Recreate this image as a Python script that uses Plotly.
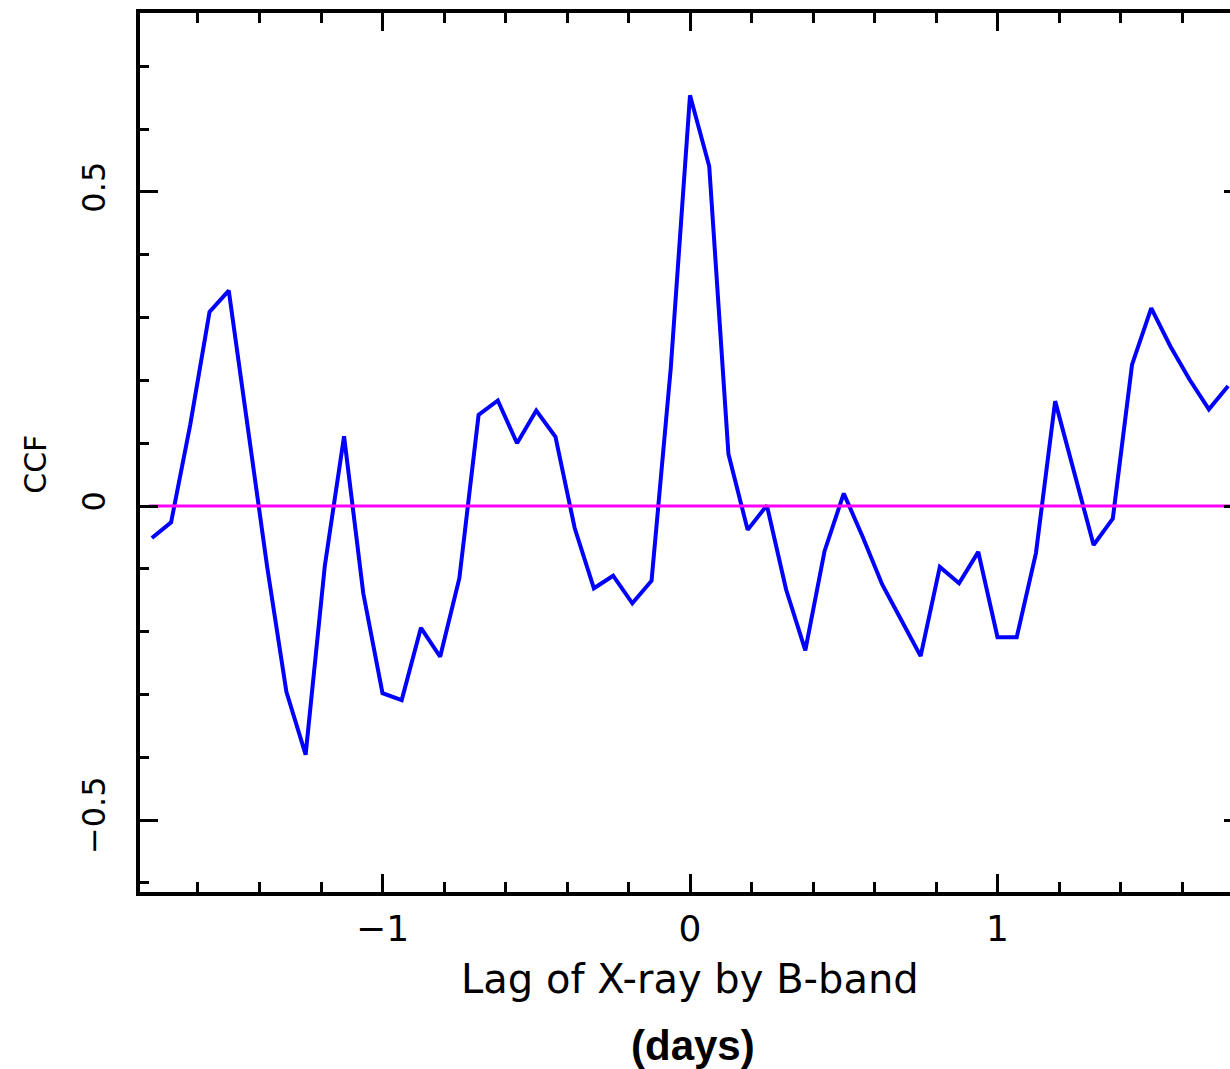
import plotly.graph_objects as go

lags = [-1.75, -1.6875, -1.625, -1.5625, -1.5, -1.4375, -1.375, -1.3125, -1.25, -1.1875,
        -1.125, -1.0625, -1.0, -0.9375, -0.875, -0.8125, -0.75, -0.6875, -0.625, -0.5625,
        -0.5, -0.4375, -0.375, -0.3125, -0.25, -0.1875, -0.125, -0.0625,
        0.0, 0.0625, 0.125, 0.1875, 0.25, 0.3125, 0.375, 0.4375, 0.5, 0.5625,
        0.625, 0.6875, 0.75, 0.8125, 0.875, 0.9375, 1.0, 1.0625, 1.125, 1.1875,
        1.25, 1.3125, 1.375, 1.4375, 1.5, 1.5625, 1.625, 1.6875, 1.75]

ccf = [-0.051, -0.026, 0.13, 0.309, 0.343, 0.125, -0.097, -0.296, -0.396, -0.095,
       0.111, -0.139, -0.298, -0.309, -0.194, -0.240, -0.115, 0.145, 0.168, 0.10,
       0.152, 0.11, -0.035, -0.131, -0.111, -0.155, -0.119, 0.22,
       0.654, 0.541, 0.083, -0.038, 0.001, -0.133, -0.23, -0.072, 0.02, -0.05,
       -0.125, -0.182, -0.239, -0.097, -0.123, -0.073, -0.209, -0.209, -0.075, 0.167,
       0.053, -0.062, -0.02, 0.225, 0.315, 0.254, 0.201, 0.154, 0.191]

zero_x = [-1.76, 1.8]
zero_y = [0.0, 0.0]

XR = [-1.7886, 1.7561]
YR = [-0.6146, 0.785]

fig = go.Figure()
fig.add_trace(go.Scatter(x=lags, y=ccf, mode="lines",
                         line=dict(color="#0000FF", width=4), showlegend=False))
fig.add_trace(go.Scatter(x=zero_x, y=zero_y, mode="lines", xaxis="x2", yaxis="y2",
                         line=dict(color="#FF00FF", width=3), showlegend=False))

font_main = "DejaVu Sans"
tick_common = dict(tickwidth=3, tickcolor="black", showgrid=False, zeroline=False)
fig.update_layout(
    width=1230, height=1069,
    margin=dict(l=140, r=0, t=13, b=177),
    paper_bgcolor="white", plot_bgcolor="white",
    xaxis=dict(range=XR, showline=True, linewidth=4, linecolor="black", mirror=True,
               ticks="inside", ticklen=18,
               tickmode="linear", tick0=0, dtick=1,
               tickfont=dict(family=font_main, size=36, color="black"),
               ticklabelstandoff=2,
               minor=dict(ticks="inside", ticklen=10, tickwidth=3, tickcolor="black",
                          tickmode="linear", dtick=0.2, tick0=0, showgrid=False),
               **tick_common),
    xaxis2=dict(range=XR, overlaying="x", side="top", anchor="y2", showline=False,
                ticks="inside", ticklen=18, tickmode="linear", tick0=0, dtick=1,
                showticklabels=False,
                minor=dict(ticks="inside", ticklen=10, tickwidth=3, tickcolor="black",
                           tickmode="linear", dtick=0.2, tick0=0, showgrid=False),
                **tick_common),
    yaxis=dict(range=YR, showline=True, linewidth=4, linecolor="black", mirror=False,
               ticks="inside", ticklen=18,
               tickmode="linear", tick0=0, dtick=0.5, tickangle=-90,
               tickfont=dict(family=font_main, size=32, color="black"),
               ticklabelstandoff=18,
               minor=dict(ticks="inside", ticklen=9, tickwidth=3, tickcolor="black",
                          tickmode="linear", dtick=0.1, tick0=0, showgrid=False),
               **tick_common),
    yaxis2=dict(range=YR, overlaying="y", side="right", anchor="x2", showline=False,
                ticks="inside", ticklen=6,
                tickmode="linear", tick0=0, dtick=0.5, showticklabels=False,
                **tick_common),
    annotations=[
        dict(text="Lag of X-ray by B-band", xref="x", yref="paper", x=0.0, y=0,
             yanchor="top", yshift=-62, showarrow=False,
             font=dict(family=font_main, size=40, color="black")),
        dict(text="<b>(days)</b>", xref="x", yref="paper", x=0.01, y=0,
             yanchor="top", yshift=-128, showarrow=False,
             font=dict(family="Liberation Sans", size=42, color="black")),
        dict(text="CCF", xref="paper", yref="paper", x=0, y=0.486,
             xanchor="center", xshift=-104, textangle=-90, showarrow=False,
             font=dict(family=font_main, size=30, color="black")),
    ],
)

fig.write_html("out.html")
